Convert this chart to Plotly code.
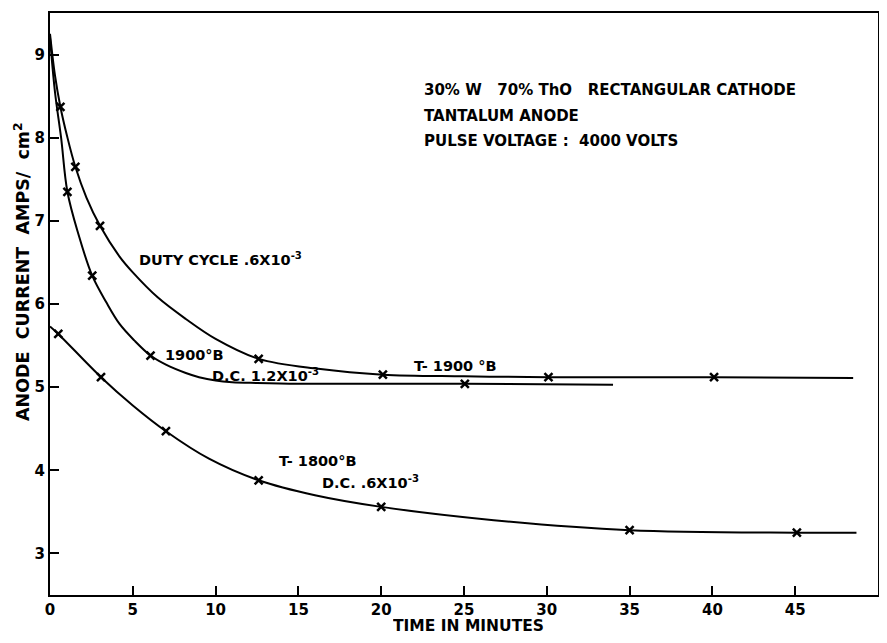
import plotly.graph_objects as go

# Curve A: duty cycle .6x10^-3, T-1900°B
a_line_x = [0, 0.3, 0.63, 1.03, 1.53, 2.2, 3.02, 4.2, 5.0, 6.5, 8.2, 10.0, 12.6, 16.2, 20.1, 25, 30.1, 40.1, 48.5]
a_line_y = [9.25, 8.75, 8.37, 8.02, 7.65, 7.28, 6.94, 6.57, 6.38, 6.08, 5.82, 5.58, 5.34, 5.22, 5.15, 5.13, 5.12, 5.12, 5.11]
a_mark_x = [0.63, 1.53, 3.02, 12.6, 20.1, 30.1, 40.1]
a_mark_y = [8.37, 7.65, 6.94, 5.34, 5.15, 5.12, 5.12]

# Curve B: D.C. 1.2x10^-3, 1900°B
b_line_x = [0, 0.3, 0.67, 1.05, 1.7, 2.55, 3.4, 4.2, 5.1, 6.07, 7.0, 8.2, 9.0, 10.0, 11.0, 12.5, 15, 20, 25.05, 34.0]
b_line_y = [9.2, 8.55, 8.0, 7.35, 6.85, 6.34, 6.02, 5.76, 5.56, 5.38, 5.27, 5.17, 5.12, 5.08, 5.06, 5.05, 5.04, 5.04, 5.04, 5.03]
b_mark_x = [1.05, 2.55, 6.07, 25.05]
b_mark_y = [7.35, 6.34, 5.38, 5.04]

# Curve C: T-1800°B, D.C. .6x10^-3
c_line_x = [0, 0.5, 3.08, 5.0, 7.0, 9.6, 12.6, 16, 20.0, 26.8, 35.0, 45.1, 48.7]
c_line_y = [5.73, 5.64, 5.12, 4.78, 4.47, 4.14, 3.88, 3.70, 3.56, 3.40, 3.28, 3.25, 3.25]
c_mark_x = [0.5, 3.08, 7.0, 12.6, 20.0, 35.0, 45.1]
c_mark_y = [5.64, 5.12, 4.47, 3.88, 3.56, 3.28, 3.25]

x_ticks = [0, 5, 10, 15, 20, 25, 30, 35, 40, 45, 50]
y_ticks = [3, 4, 5, 6, 7, 8, 9]

FONT = "DejaVu Sans"
fig = go.Figure()
for lx, ly, mx, my in [(a_line_x, a_line_y, a_mark_x, a_mark_y),
                       (b_line_x, b_line_y, b_mark_x, b_mark_y),
                       (c_line_x, c_line_y, c_mark_x, c_mark_y)]:
    fig.add_trace(go.Scatter(x=lx, y=ly, mode="lines",
                             line=dict(color="black", width=2, shape="spline", smoothing=1.0),
                             showlegend=False, hoverinfo="skip"))
    fig.add_trace(go.Scatter(x=mx, y=my, mode="markers",
                             marker=dict(symbol="x-thin", size=8, line=dict(color="black", width=2.5)),
                             showlegend=False))

# screen geometry (page body has an 8px margin; keep the figure inside the window)
OFF = 8
WIN_W, WIN_H = 887, 643
W, H = WIN_W - 2 * OFF, WIN_H - 2 * OFF     # 871 x 627, drawn at screen (8, 8)
PL, PT, PR, PB = 50, 13, 878, 595            # plot area in screen pixels
L, T = PL - OFF, PT - OFF
R, B = OFF + W - PR, OFF + H - PB
pw, ph = PR - PL, PB - PT

def px(sx):
    return (sx - PL) / pw

def py(sy):
    return 1 - (sy - PT) / ph

ann = [
    dict(x=422, y=90, text="30% W   70% ThO   RECTANGULAR CATHODE", size=15),
    dict(x=422, y=116, text="TANTALUM ANODE", size=15),
    dict(x=422, y=141, text="PULSE VOLTAGE :  4000 VOLTS", size=15),
    dict(x=137, y=259, text="DUTY CYCLE .6X10<sup>-3</sup>", size=14.5),
    dict(x=163, y=355, text="1900°B", size=14.5),
    dict(x=210, y=375, text="D.C. 1.2X10<sup>-3</sup>", size=14.5),
    dict(x=412, y=366, text="T- 1900 °B", size=14.5),
    dict(x=277, y=461, text="T- 1800°B", size=14.5),
    dict(x=320, y=482, text="D.C. .6X10<sup>-3</sup>", size=14.5),
]
for a in ann:
    fig.add_annotation(x=px(a["x"]), y=py(a["y"]), xref="paper", yref="paper",
                       text=a["text"], showarrow=False, xanchor="left", yanchor="middle",
                       font=dict(family=FONT, size=a["size"], color="black", weight="bold"))

fig.add_annotation(x=px(22), y=py(272), xref="paper", yref="paper",
                   text="ANODE  CURRENT  AMPS/  cm<sup>2</sup>", textangle=-90, showarrow=False,
                   xanchor="center", yanchor="middle",
                   font=dict(family=FONT, size=17.5, color="black", weight="bold"))
fig.add_annotation(x=px(468), y=py(OFF + H), xref="paper", yref="paper",
                   text="TIME IN MINUTES", showarrow=False, height=16, borderpad=0,
                   xanchor="center", yanchor="bottom",
                   font=dict(family=FONT, size=15.5, color="black", weight="bold"))

axis_common = dict(showgrid=False, zeroline=False, showline=True, linecolor="black", linewidth=2,
                   mirror=True, ticks="inside", ticklen=9, tickwidth=1.5, tickcolor="black",
                   automargin=False,
                   tickfont=dict(family=FONT, size=15, color="black", weight="bold"))
fig.update_xaxes(range=[0, 50], tickvals=x_ticks, ticktext=[str(v) for v in x_ticks], **axis_common)
fig.update_yaxes(range=[2.5, 9.5], tickvals=y_ticks, ticktext=[str(v) for v in y_ticks], **axis_common)

fig.update_layout(width=W, height=H, margin=dict(l=L, r=R, t=T, b=B, autoexpand=False),
                  plot_bgcolor="white", paper_bgcolor="white", showlegend=False)
fig.write_html("out.html")
